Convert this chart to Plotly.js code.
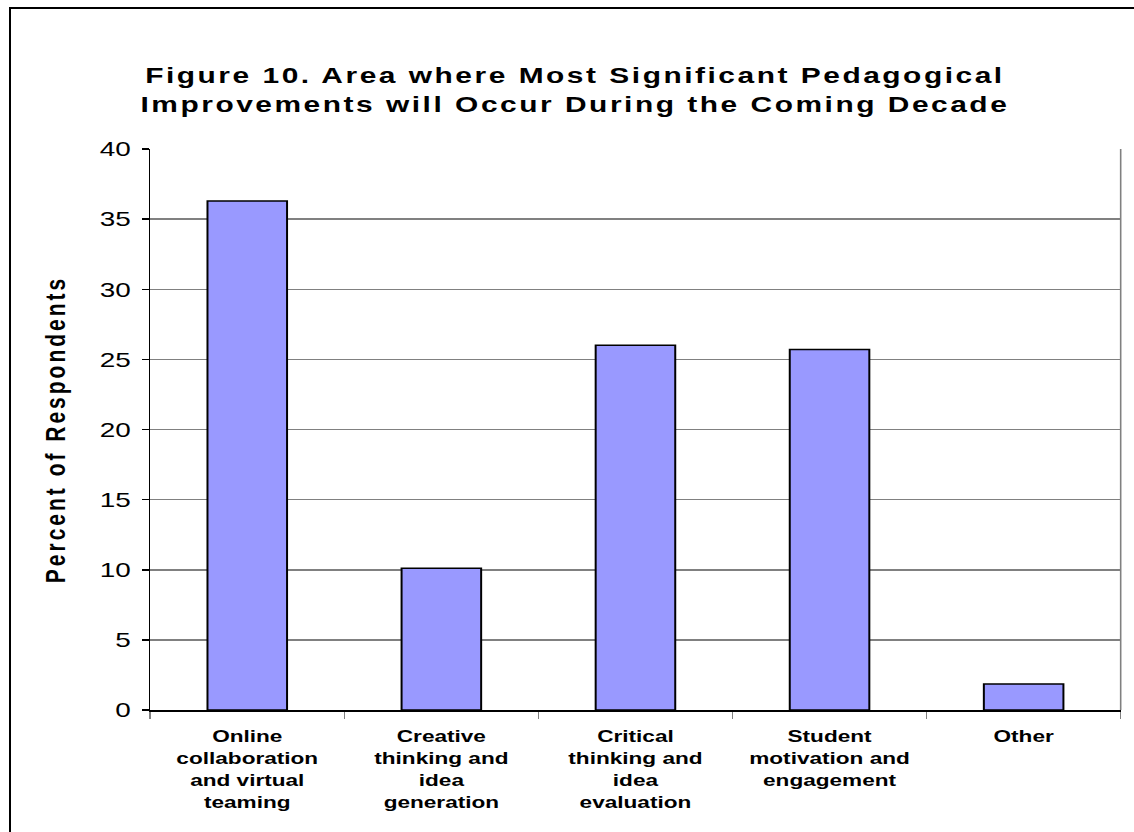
<!DOCTYPE html>
<html>
<head>
<meta charset="utf-8">
<script src="https://cdn.plot.ly/plotly-3.0.1.min.js"></script>
<style>
  html, body { margin: 0; padding: 0; background: #fff; overflow: hidden; }
  #frame { position: absolute; left: 9px; top: 7px; width: 1200px; height: 900px; border: 2px solid #000; pointer-events: none; z-index: 5; }
  /* The reference chart is horizontally stretched; draw at 853px wide and stretch to 1134px. */
  #chart { position: absolute; left: 0; top: 0; width: 853px; height: 832px; transform: scaleX(1.3294); transform-origin: 0 0; }
  .gtitle { letter-spacing: 1.9px; }
  .ytitle { letter-spacing: 3px; }
</style>
</head>
<body>
<div id="chart"></div>
<div id="frame"></div>
<script>
const categories = [
  "Online<br>collaboration<br>and virtual<br>teaming",
  "Creative<br>thinking and<br>idea<br>generation",
  "Critical<br>thinking and<br>idea<br>evaluation",
  "Student<br>motivation and<br>engagement",
  "Other"
];
const percentValues = [36.3, 10.1, 26.0, 25.7, 1.85];
const yTickValues = [0, 5, 10, 15, 20, 25, 30, 35, 40];

const trace = {
  type: "bar",
  x: categories,
  y: percentValues,
  marker: { color: "#9999ff", line: { color: "#000", width: 1.5 } },
  hoverinfo: "skip"
};

const layout = {
  width: 853, height: 832,
  margin: { l: 113, r: 10, t: 149, b: 122 },
  paper_bgcolor: "#fff", plot_bgcolor: "#fff",
  bargap: 0.59,
  showlegend: false,
  title: {
    text: "<b>Figure 10. Area where Most Significant Pedagogical<br>Improvements will Occur During the Coming Decade</b>",
    font: { family: "Liberation Sans, Arial, sans-serif", size: 22.5, color: "#000" },
    x: 0.507, xanchor: "center", y: 0.9, yanchor: "middle"
  },
  font: { family: "Liberation Sans, Arial, sans-serif", color: "#000" },
  xaxis: {
    type: "category",
    tickson: "boundaries",
    ticks: "outside", ticklen: 7, tickcolor: "#808080", tickwidth: 1.2,
    showline: true, linecolor: "#000", linewidth: 1.5,
    showgrid: false,
    tickfont: { size: 17, color: "#000", weight: "bold" },
    ticklabelstandoff: 10,
    fixedrange: true
  },
  yaxis: {
    range: [0, 40],
    tickmode: "array", tickvals: yTickValues, ticktext: yTickValues.map(String),
    ticks: "outside", ticklen: 5.3, tickcolor: "#000", tickwidth: 1.5,
    showline: true, linecolor: "#000", linewidth: 1.2,
    showgrid: true, gridcolor: "#808080", gridwidth: 1.5,
    zeroline: false,
    tickfont: { size: 21, color: "#000" },
    ticklabelstandoff: 4,
    title: { text: "<b>Percent of Respondents</b>", font: { size: 21, color: "#000" }, standoff: 19 },
    fixedrange: true
  },
  shapes: [
    { type: "line", xref: "paper", yref: "paper", x0: 1, x1: 1, y0: 0, y1: 1,
      line: { color: "#808080", width: 1.2 } }
  ]
};

Plotly.newPlot("chart", [trace], layout, { displayModeBar: false, staticPlot: true });
</script>
</body>
</html>
